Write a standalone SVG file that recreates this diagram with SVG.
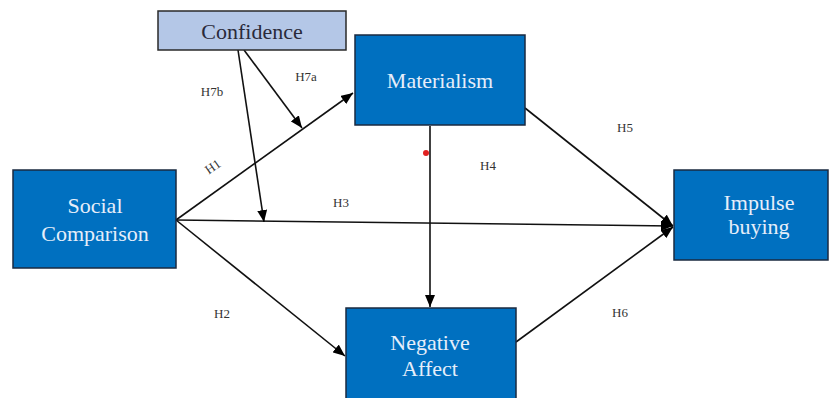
<svg xmlns="http://www.w3.org/2000/svg" width="830" height="398" viewBox="0 0 830 398">
<defs>
<marker id="arr" viewBox="0 0 12 10" refX="12" refY="5" markerWidth="12" markerHeight="10" markerUnits="userSpaceOnUse" orient="auto">
<path d="M0,0 L12,5 L0,10 Z" fill="#000"/>
</marker>
</defs>
<style>
.box{fill:#0070c0;stroke:#1a2a40;stroke-width:1.5}
.mod{fill:#b4c7e7;stroke:#2a2a2a;stroke-width:1.5}
.bt{font-family:"Liberation Serif",serif;font-size:22px;fill:#e6eefa;text-anchor:middle}
.mt{font-family:"Liberation Serif",serif;font-size:22px;fill:#2a2a3a;text-anchor:middle}
.lab{font-family:"Liberation Serif",serif;font-size:13px;fill:#333;text-anchor:middle}
.c{stroke:#111;stroke-width:1.6;fill:none;marker-end:url(#arr)}
</style>
<rect width="830" height="398" fill="#fff"/>
<g id="connectors">
<line class="c" x1="176" y1="220" x2="353" y2="93"/>
<line class="c" x1="176" y1="220" x2="673" y2="226"/>
<line class="c" x1="176" y1="220" x2="345" y2="356"/>
<line class="c" x1="430" y1="126" x2="430" y2="307"/>
<line class="c" x1="525" y1="108" x2="673" y2="226"/>
<line class="c" x1="516" y1="342" x2="673" y2="227"/>
<line class="c" x1="244" y1="50" x2="302" y2="128"/>
<line class="c" x1="238" y1="50" x2="264" y2="222"/>
</g>
<g id="labels">
<text class="lab" x="306" y="81">H7a</text>
<text class="lab" x="212" y="96">H7b</text>
<text class="lab" x="213" y="171" transform="rotate(-35 213 167)">H1</text>
<text class="lab" x="341" y="207">H3</text>
<text class="lab" x="488" y="170">H4</text>
<text class="lab" x="222" y="318">H2</text>
<text class="lab" x="625" y="132">H5</text>
<text class="lab" x="620" y="317">H6</text>
</g>
<circle cx="426" cy="153" r="3" fill="#e02020"/>
<g id="confidence">
<rect class="mod" x="158" y="11" width="188" height="39"/>
<text class="mt" x="252" y="39">Confidence</text>
</g>
<g id="materialism">
<rect class="box" x="355" y="35" width="170" height="90"/>
<text class="bt" x="440" y="88">Materialism</text>
</g>
<g id="social-comparison">
<rect class="box" x="13" y="170" width="163" height="98"/>
<text class="bt" x="95" y="213">Social</text>
<text class="bt" x="95" y="241">Comparison</text>
</g>
<g id="negative-affect">
<rect class="box" x="346" y="308" width="170" height="96"/>
<text class="bt" x="430" y="350">Negative</text>
<text class="bt" x="430" y="376">Affect</text>
</g>
<g id="impulse-buying">
<rect class="box" x="674" y="170" width="154" height="90"/>
<text class="bt" x="759" y="210">Impulse</text>
<text class="bt" x="759" y="234">buying</text>
</g>
</svg>
